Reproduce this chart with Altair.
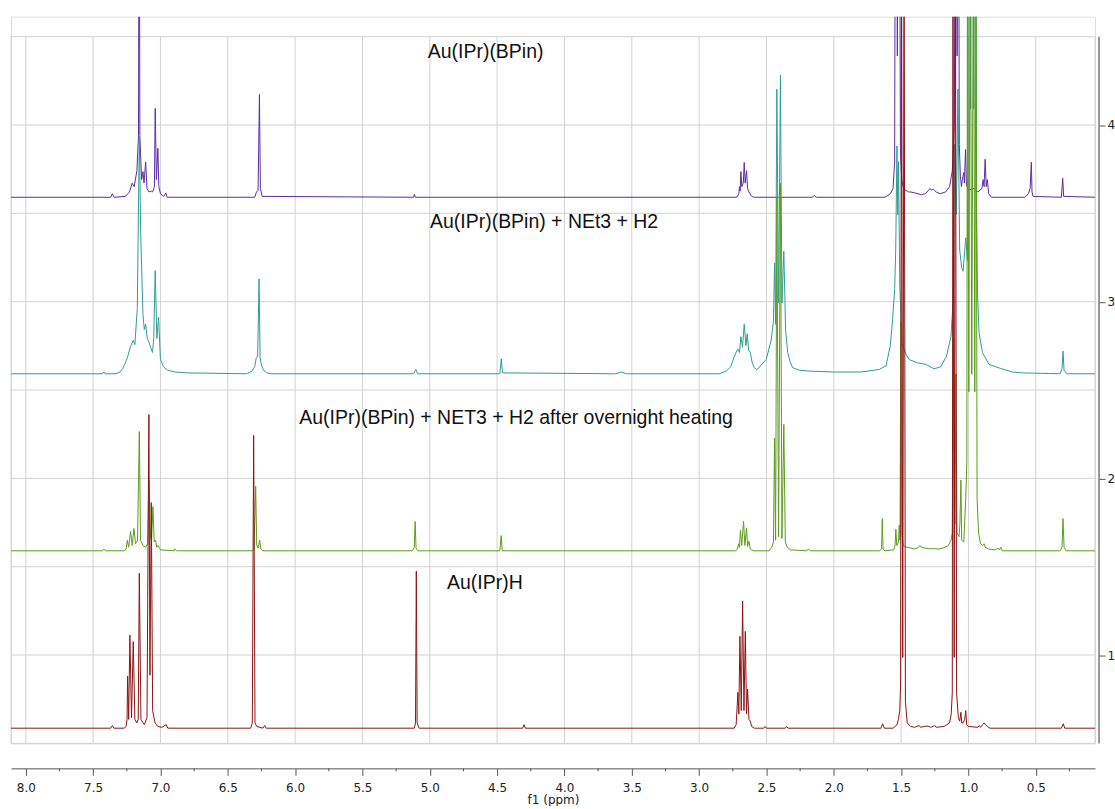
import altair as alt
import pandas as pd

# Stacked 1H NMR spectra (C6D6), chemical shift in ppm vs. stacked intensity
PPM_LEFT, PPM_RIGHT = 8.11, 0.06
Y_MIN, Y_MAX = 0.5, 4.613

TRACE_NAMES = [
    "Au(IPr)(BPin)",
    "Au(IPr)(BPin) + NEt3 + H2",
    "Au(IPr)(BPin) + NET3 + H2 after overnight heating",
    "Au(IPr)H",
]
TRACE_OFFSETS = [3.591, 2.592, 1.590, 0.586]
TRACE_COLORS = ["#5b2ca3", "#2f9c99", "#5b9c1e", "#8b1313"]

# label anchor (ppm at left edge of text, baseline value)
LABEL_PPM = [5.015, 4.998, 5.969, 4.872]
LABEL_Y = [4.377, 3.416, 2.305, 1.373]

# (ppm, intensity above the trace baseline)
SPEC_BPIN = [
    (8.11, 0), (7.37, 0), (7.357, 0.02), (7.345, 0),
    (7.26, 0.005), (7.23, 0.03), (7.21, 0.08), (7.195, 0.06), (7.175, 0.15),
    (7.163, 0.35), (7.158, 2.4), (7.153, 0.35), (7.14, 0.1), (7.13, 0.145),
    (7.122, 0.08), (7.11, 0.20), (7.10, 0.05), (7.085, 0.03), (7.068, 0.035),
    (7.058, 0.03), (7.045, 0.06), (7.039, 0.503), (7.03, 0.1), (7.019, 0.277),
    (7.012, 0.06), (7.0, 0.02), (6.975, 0.005), (6.96, 0.023), (6.95, 0),
    (6.30, 0), (6.287, 0.03), (6.275, 0.04), (6.265, 0.582), (6.258, 0.05),
    (6.245, 0.005), (5.12, 0), (5.114, 0.017), (5.108, 0),
    (2.72, 0), (2.705, 0.02), (2.70, 0.06), (2.695, 0.035), (2.69, 0.145),
    (2.683, 0.06), (2.672, 0.08), (2.665, 0.197), (2.658, 0.08), (2.648, 0.15),
    (2.64, 0.05), (2.63, 0.03), (2.61, 0.005), (2.59, 0),
    (2.16, 0), (2.144, 0.01), (2.13, 0),
    (1.62, 0), (1.58, 0.02), (1.56, 0.05), (1.548, 0.2), (1.54, 3.0),
    (1.528, 0.8), (1.515, 3.0), (1.505, 0.25), (1.495, 0.1), (1.485, 0.06),
    (1.47, 0.04), (1.455, 0.035), (1.445, 0.03), (1.43, 0.03), (1.40, 0.025),
    (1.35, 0.015), (1.32, 0.02), (1.295, 0.04), (1.285, 0.05), (1.275, 0.04),
    (1.26, 0.045), (1.24, 0.03), (1.21, 0.02), (1.17, 0.03), (1.14, 0.06),
    (1.12, 0.15), (1.105, 0.4), (1.092, 3.0), (1.084, 0.8), (1.076, 3.0),
    (1.068, 0.3), (1.06, 0.12), (1.052, 0.06), (1.045, 0.1), (1.035, 0.14),
    (1.03, 0.08), (1.022, 0.27), (1.015, 0.07), (1.0, 0.04), (0.96, 0.05),
    (0.93, 0.03), (0.90, 0.05), (0.891, 0.1), (0.884, 0.06), (0.876, 0.215),
    (0.868, 0.06), (0.86, 0.1), (0.85, 0.02), (0.83, 0),
    (0.58, 0), (0.555, 0.02), (0.542, 0.05), (0.533, 0.198), (0.528, 0.03),
    (0.52, 0.005), (0.31, 0), (0.30, 0.107), (0.293, 0.005), (0.06, 0),
]

SPEC_NET3_H2 = [
    (8.11, 0), (7.43, 0), (7.42, 0.01), (7.41, 0),
    (7.33, 0), (7.30, 0.01), (7.28, 0.03), (7.262, 0.06), (7.246, 0.09),
    (7.222, 0.155), (7.202, 0.19), (7.19, 0.165), (7.172, 0.37),
    (7.157, 1.342), (7.147, 0.8), (7.13, 0.335), (7.12, 0.25), (7.11, 0.28),
    (7.098, 0.2), (7.086, 0.18), (7.073, 0.15), (7.059, 0.12), (7.05, 0.2),
    (7.039, 0.584), (7.027, 0.2), (7.014, 0.32), (7.0, 0.08), (6.977, 0.04),
    (6.947, 0.02), (6.89, 0.01), (6.80, 0.005), (6.36, 0), (6.32, 0.015),
    (6.30, 0.04), (6.29, 0.085), (6.278, 0.1), (6.268, 0.537), (6.26, 0.09),
    (6.25, 0.05), (6.235, 0.02), (6.21, 0.005), (6.18, 0),
    (5.12, 0), (5.104, 0.025), (5.09, 0), (4.48, 0), (4.469, 0.085),
    (4.46, 0.005), (3.62, 0), (3.577, 0.01), (3.54, 0),
    (2.85, 0), (2.798, 0.015), (2.766, 0.04), (2.737, 0.1), (2.72, 0.13),
    (2.712, 0.14), (2.70, 0.12), (2.69, 0.21), (2.678, 0.15), (2.665, 0.28),
    (2.652, 0.16), (2.643, 0.226), (2.632, 0.13), (2.62, 0.12), (2.605, 0.06),
    (2.59, 0.035), (2.576, 0.024), (2.56, 0.03), (2.54, 0.05), (2.502, 0.08),
    (2.465, 0.19), (2.448, 0.3), (2.44, 0.627), (2.432, 0.28), (2.423, 1.61),
    (2.41, 0.4), (2.396, 1.69), (2.385, 0.4), (2.371, 0.693), (2.358, 0.25),
    (2.342, 0.12), (2.325, 0.07), (2.305, 0.034), (2.255, 0.02), (2.18, 0.015),
    (2.0, 0.01), (1.80, 0.01), (1.70, 0.02), (1.662, 0.025), (1.612, 0.045),
    (1.58, 0.16), (1.563, 0.31), (1.548, 0.476), (1.54, 0.7), (1.531, 1.29),
    (1.525, 0.9), (1.519, 1.2), (1.51, 0.5), (1.494, 0.175), (1.464, 0.11),
    (1.44, 0.08), (1.378, 0.062), (1.316, 0.053), (1.255, 0.028),
    (1.205, 0.04), (1.163, 0.1), (1.13, 0.21), (1.113, 0.42), (1.102, 1.3),
    (1.09, 0.9), (1.078, 1.61), (1.065, 0.7), (1.05, 0.6), (1.04, 0.58),
    (1.02, 0.77), (1.007, 0.64), (0.995, 4.0), (0.984, 1.5), (0.973, 4.0),
    (0.961, 1.5), (0.95, 4.0), (0.939, 0.9), (0.933, 0.46), (0.921, 0.23),
    (0.896, 0.12), (0.847, 0.053), (0.76, 0.03), (0.674, 0.01), (0.6, 0.005),
    (0.32, 0), (0.305, 0.03), (0.298, 0.128), (0.29, 0.02), (0.27, 0),
    (0.06, 0),
]

SPEC_HEATED = [
    (8.11, 0), (7.43, 0), (7.42, 0.01), (7.41, 0),
    (7.27, 0), (7.255, 0.01), (7.246, 0.06), (7.236, 0.02), (7.222, 0.11),
    (7.21, 0.03), (7.197, 0.126), (7.185, 0.04), (7.17, 0.06), (7.157, 0.675),
    (7.148, 0.06), (7.13, 0.03), (7.11, 0.02), (7.095, 0.04), (7.086, 0.40),
    (7.074, 0.08), (7.066, 0.06), (7.056, 0.25), (7.046, 0.05), (7.036, 0.06),
    (7.028, 0.02), (7.018, 0.03), (7.0, 0.005), (6.90, 0), (6.895, 0.01),
    (6.88, 0), (6.32, 0), (6.305, 0.01), (6.293, 0.365), (6.285, 0.03),
    (6.275, 0.015), (6.263, 0.06), (6.255, 0.01), (6.24, 0),
    (5.13, 0), (5.115, 0.02), (5.109, 0.166), (5.102, 0.015), (5.09, 0),
    (4.48, 0), (4.47, 0.086), (4.462, 0),
    (2.73, 0), (2.715, 0.01), (2.707, 0.04), (2.70, 0.02), (2.693, 0.116),
    (2.684, 0.03), (2.67, 0.167), (2.66, 0.03), (2.648, 0.13), (2.64, 0.025),
    (2.63, 0.054), (2.62, 0.01), (2.60, 0),
    (2.48, 0), (2.46, 0.02), (2.448, 0.05), (2.44, 0.638), (2.432, 0.06),
    (2.423, 2.0), (2.41, 0.08), (2.396, 2.08), (2.385, 0.07), (2.371, 0.715),
    (2.36, 0.05), (2.345, 0.02), (2.32, 0.005), (2.2, 0), (2.19, 0.01),
    (2.175, 0), (1.66, 0), (1.645, 0.01), (1.64, 0.182), (1.634, 0.01),
    (1.62, 0), (1.555, 0.005), (1.545, 0.03), (1.539, 0.122), (1.532, 0.03),
    (1.52, 0.05), (1.514, 0.145), (1.508, 0.06), (1.502, 1.3), (1.494, 0.1),
    (1.485, 0.03), (1.46, 0.02), (1.45, 0.02), (1.40, 0.01), (1.37, 0.02),
    (1.36, 0.03), (1.35, 0.02), (1.30, 0.012), (1.25, 0.012), (1.22, 0.01),
    (1.19, 0.015), (1.15, 0.03), (1.13, 0.06), (1.12, 0.1), (1.11, 1.2),
    (1.10, 0.15), (1.093, 1.0), (1.085, 0.1), (1.07, 0.08), (1.063, 0.16),
    (1.056, 0.4), (1.05, 0.06), (1.035, 0.05), (1.02, 0.3), (1.012, 0.5),
    (1.007, 3.6), (0.997, 0.9), (0.987, 3.8), (0.975, 1.0), (0.962, 3.8),
    (0.953, 0.9), (0.944, 3.4), (0.936, 0.3), (0.925, 0.1), (0.91, 0.04),
    (0.895, 0.03), (0.884, 0.04), (0.875, 0.02), (0.85, 0.01), (0.80, 0.005),
    (0.78, 0.015), (0.77, 0.005), (0.76, 0.02), (0.75, 0),
    (0.32, 0), (0.305, 0.02), (0.298, 0.182), (0.29, 0.02), (0.275, 0),
    (0.06, 0),
]

SPEC_AUH = [
    (8.11, 0), (7.37, 0), (7.357, 0.015), (7.345, 0),
    (7.27, 0), (7.255, 0.01), (7.248, 0.05), (7.244, 0.294), (7.236, 0.05),
    (7.227, 0.527), (7.215, 0.06), (7.202, 0.49), (7.19, 0.05), (7.175, 0.03),
    (7.165, 0.05), (7.157, 0.877), (7.145, 0.05), (7.12, 0.02), (7.1, 0.06),
    (7.086, 1.776), (7.078, 0.3), (7.068, 1.277), (7.058, 0.1), (7.04, 0.03),
    (7.02, 0.01), (6.99, 0.005), (6.957, 0.02), (6.945, 0),
    (6.33, 0), (6.318, 0.03), (6.308, 1.657), (6.298, 0.03), (6.285, 0.01),
    (6.24, 0), (6.226, 0.015), (6.215, 0),
    (5.115, 0), (5.106, 0.03), (5.10, 0.889), (5.094, 0.03), (5.08, 0),
    (4.31, 0), (4.30, 0.02), (4.29, 0),
    (2.74, 0), (2.725, 0.02), (2.712, 0.203), (2.705, 0.08), (2.697, 0.52),
    (2.687, 0.1), (2.677, 0.72), (2.667, 0.1), (2.657, 0.548), (2.648, 0.08),
    (2.64, 0.222), (2.63, 0.05), (2.62, 0.04), (2.61, 0.01), (2.59, 0),
    (2.52, 0), (2.51, 0.01), (2.50, 0), (2.36, 0), (2.35, 0.01), (2.34, 0),
    (1.65, 0), (1.637, 0.025), (1.625, 0),
    (1.56, 0), (1.53, 0.02), (1.52, 0.05), (1.51, 0.1), (1.504, 0.25),
    (1.497, 4.5), (1.488, 0.4), (1.478, 4.5), (1.468, 0.15), (1.455, 0.03),
    (1.43, 0.01), (1.40, 0.005), (1.366, 0.015), (1.355, 0.005), (1.33, 0.01),
    (1.30, 0.012), (1.28, 0.005), (1.25, 0.015), (1.24, 0.005), (1.18, 0.01),
    (1.14, 0.03), (1.128, 0.08), (1.12, 0.2), (1.115, 4.5), (1.106, 0.4),
    (1.097, 4.5), (1.088, 0.2), (1.075, 0.06), (1.065, 0.04), (1.056, 0.09),
    (1.05, 0.03), (1.04, 0.03), (1.028, 0.05), (1.02, 0.10), (1.013, 0.02),
    (1.0, 0.01), (0.93, 0.005), (0.92, 0.015), (0.91, 0.005), (0.895, 0.02),
    (0.884, 0.03), (0.875, 0.02), (0.86, 0.01), (0.84, 0),
    (0.31, 0), (0.296, 0.025), (0.285, 0), (0.06, 0),
]

SPECTRA = [SPEC_BPIN, SPEC_NET3_H2, SPEC_HEATED, SPEC_AUH]

MAJOR_TICKS = [0.5, 1.0, 1.5, 2.0, 2.5, 3.0, 3.5, 4.0, 4.5, 5.0, 5.5, 6.0, 6.5, 7.0, 7.5, 8.0]
MINOR_TICKS = [0.25, 0.75, 1.25, 1.75, 2.25, 2.75, 3.25, 3.75, 4.25, 4.75, 5.25, 5.75, 6.25, 6.75, 7.25, 7.75]
Y_GRID = [0.5, 1.0, 1.5, 2.0, 2.5, 3.0, 3.5, 4.0, 4.5]
Y_TICKS = [1, 2, 3, 4]

W, H = 1086, 728
GRID = "#d2d2d2"
AXIS = "#555555"
TICK_FONT = "DejaVu Sans"
LABEL_FONT = "Liberation Sans"

rows = []
for name, off, spec in zip(TRACE_NAMES, TRACE_OFFSETS, SPECTRA):
    for i, (p, v) in enumerate(spec):
        rows.append({"trace": name, "i": i, "ppm": p, "y": off + v})
spec_df = pd.DataFrame(rows)

x_scale = alt.Scale(domain=[PPM_RIGHT, PPM_LEFT], reverse=True, nice=False, zero=False)
y_scale = alt.Scale(domain=[Y_MIN, Y_MAX], nice=False, zero=False)

x_axis = alt.Axis(
    orient="bottom", offset=25, values=MAJOR_TICKS, format=".1f", grid=False,
    tickSize=7, tickColor=AXIS, domainColor=AXIS, labelPadding=7,
    labelFont=TICK_FONT, labelFontSize=12, labelColor="#222222",
    title="f1 (ppm)", titleFont=TICK_FONT, titleFontSize=12,
    titleFontWeight="normal", titleColor="#222222", titlePadding=1,
)
y_axis = alt.Axis(
    orient="right", offset=4, values=Y_TICKS, format="d", grid=False,
    domain=False, tickSize=6, tickColor=AXIS, labelPadding=2,
    labelFont=TICK_FONT, labelFontSize=12, labelColor="#222222", title=None,
)


def xe(field):
    return alt.X(f"{field}:Q", scale=x_scale, axis=x_axis)


def ye(field):
    return alt.Y(f"{field}:Q", scale=y_scale, axis=y_axis)


# grid and frame
vgrid_df = pd.DataFrame({"ppm": [PPM_LEFT] + MAJOR_TICKS + [PPM_RIGHT], "y0": Y_MIN, "y1": 4.5})
hgrid_df = pd.DataFrame({"y": Y_GRID, "x0": PPM_LEFT, "x1": PPM_RIGHT})

vgrid = alt.Chart(vgrid_df).mark_rule(color=GRID, strokeWidth=1).encode(
    x=xe("ppm"), y=ye("y0"), y2="y1"
)
hgrid = alt.Chart(hgrid_df).mark_rule(color=GRID, strokeWidth=1).encode(
    y=ye("y"), x=xe("x0"), x2="x1"
)

# right-hand intensity axis line
yline_df = pd.DataFrame({"y0": [Y_MIN], "y1": [4.5]})
yline = alt.Chart(yline_df).mark_rule(color=AXIS, strokeWidth=1.2).encode(
    x=alt.value(W + 4), y=ye("y0"), y2="y1"
)

# minor ticks on the ppm axis
minor_df = pd.DataFrame({"ppm": MINOR_TICKS})
minor = alt.Chart(minor_df).mark_rule(color=AXIS, strokeWidth=1).encode(
    x=xe("ppm"), y=alt.value(H + 25), y2=alt.value(H + 28)
)

lines = []
for name, color in zip(TRACE_NAMES, TRACE_COLORS):
    lines.append(
        alt.Chart(spec_df)
        .transform_filter(alt.datum.trace == name)
        .mark_line(clip=True, strokeWidth=1, color=color, interpolate="linear")
        .encode(x=xe("ppm"), y=ye("y"), order=alt.Order("i:Q"))
    )

label_df = pd.DataFrame({"label": TRACE_NAMES, "ppm": LABEL_PPM, "y": LABEL_Y})
labels = alt.Chart(label_df).mark_text(
    align="left", baseline="alphabetic", font=LABEL_FONT, fontSize=19.5, color="#111111"
).encode(x=xe("ppm"), y=ye("y"), text="label:N")

chart = (
    alt.layer(vgrid, hgrid, yline, minor, *lines, labels)
    .properties(width=W, height=H, padding={"left": 10, "top": 16, "right": 0, "bottom": 0})
    .configure_view(stroke=None)
    .configure(background="white")
)

chart.save("out.html", embed_options={"renderer": "svg", "actions": False})
